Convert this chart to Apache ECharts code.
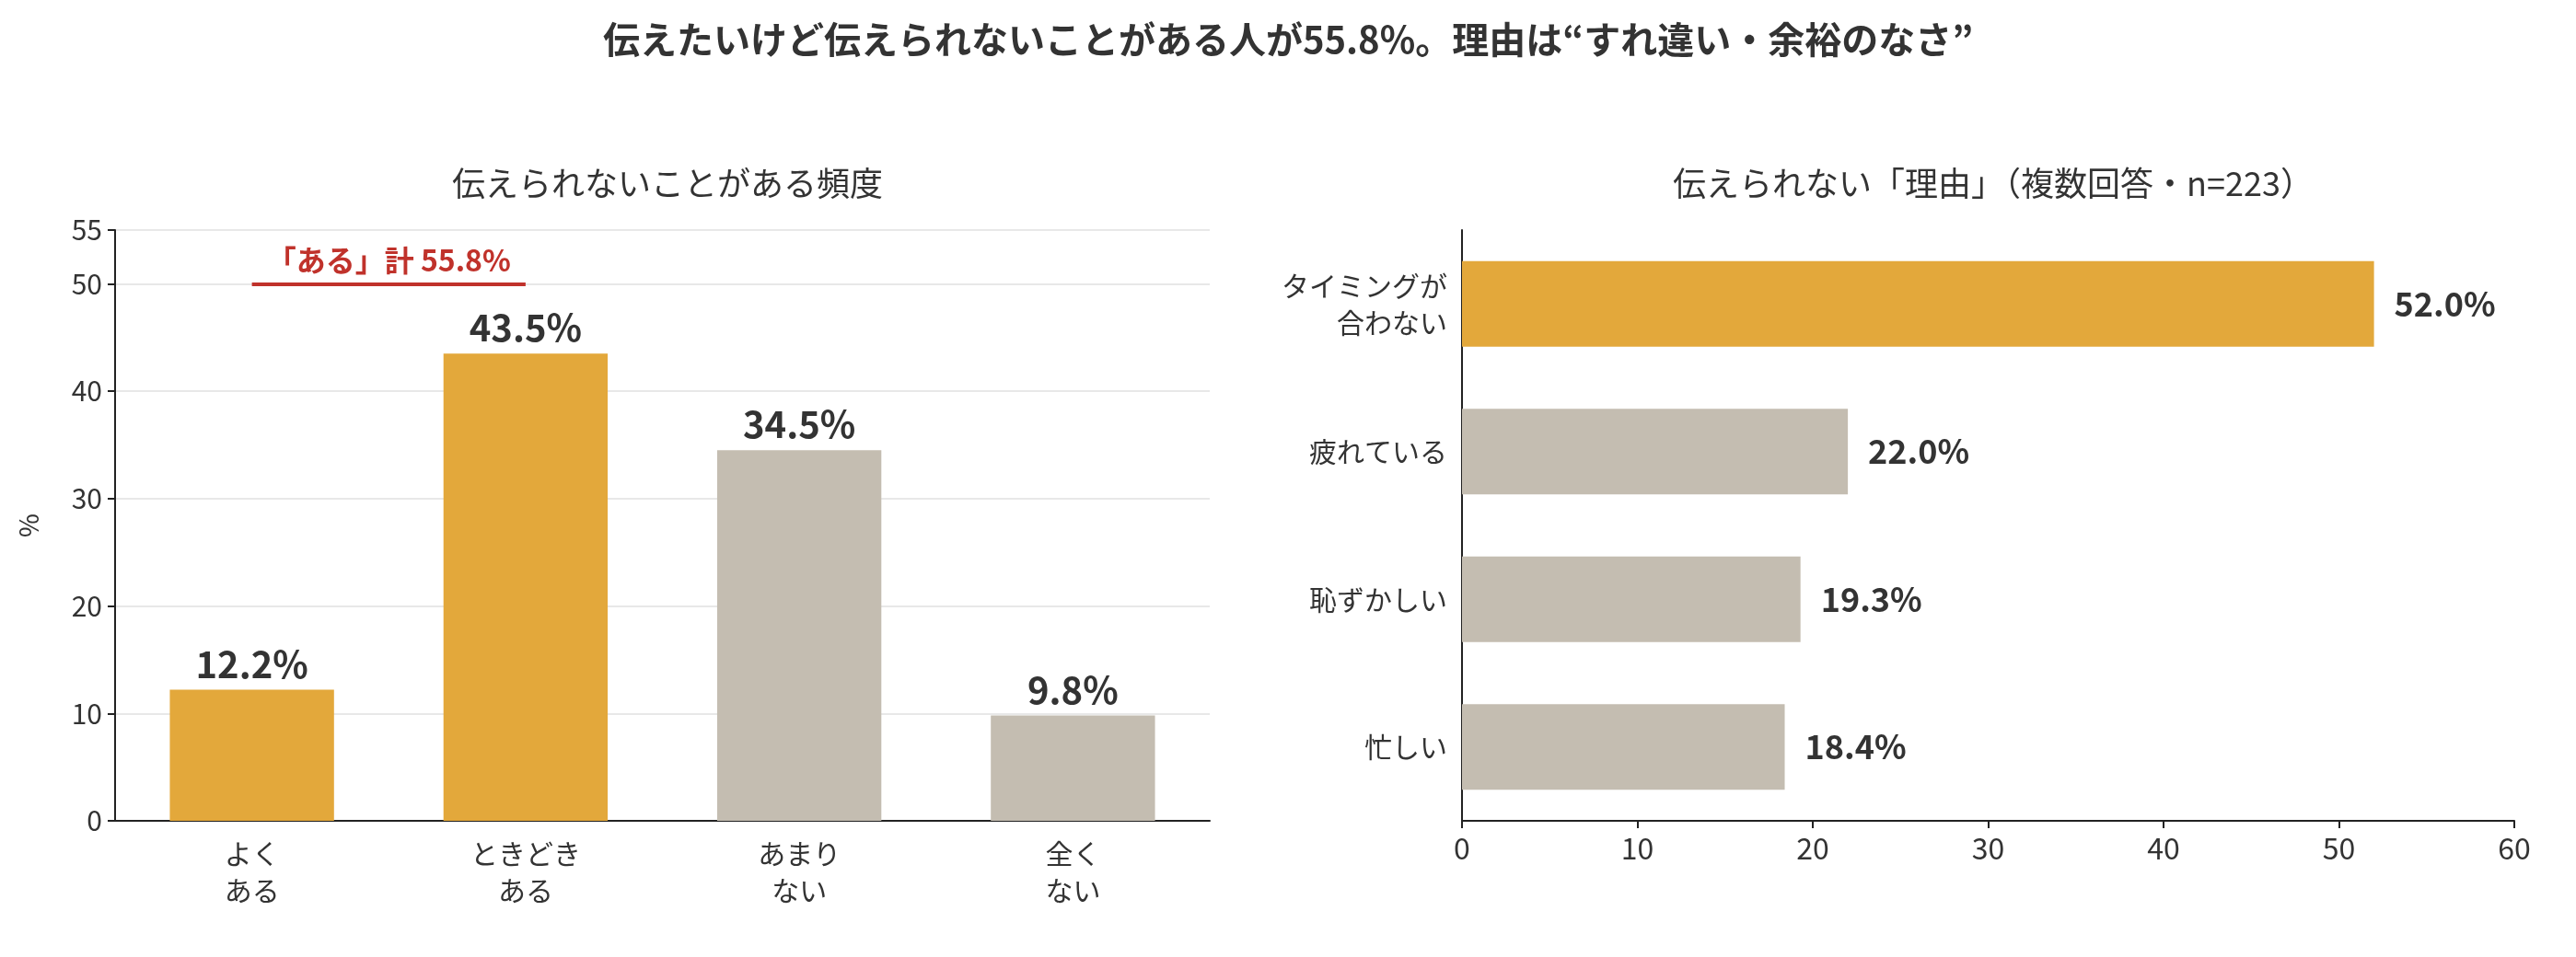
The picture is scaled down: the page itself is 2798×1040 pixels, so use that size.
<!DOCTYPE html>
<html><head><meta charset="utf-8">
<script src="https://cdn.jsdelivr.net/npm/echarts@6/dist/echarts.min.js"></script>
<style>html,body{margin:0;background:#fff}#c{width:2798px;height:1040px}</style>
</head><body><div id="c"></div>
<script>
var freqCats = ['よく\nある', 'ときどき\nある', 'あまり\nない', '全く\nない'];
var freqVals = [12.2, 43.5, 34.5, 9.8];
var freqColors = ['#E3A83B', '#E3A83B', '#C4BDB1', '#C4BDB1'];
var reasonCats = ['タイミングが\n合わない', '疲れている', '恥ずかしい', '忙しい'];
var reasonVals = [52.0, 22.0, 19.3, 18.4];
var reasonColors = ['#E3A83B', '#C4BDB1', '#C4BDB1', '#C4BDB1'];

var font = '"Noto Sans CJK JP", "Noto Sans", sans-serif';
var txt = '#333';
var chart = echarts.init(document.getElementById('c'));
var axisLine = {show: true, lineStyle: {color: '#222', width: 2}};
var option = {
    textStyle: {fontFamily: font},
    title: [
        {text: '伝えたいけど伝えられないことがある人が55.8%。理由は“すれ違い・余裕のなさ”', left: 'center', top: 18,
         textStyle: {fontSize: 40, fontWeight: 'bold', color: txt, fontFamily: font}},
        {text: '伝えられないことがある頻度', left: 720, textAlign: 'center', top: 176,
         textStyle: {fontSize: 36, fontWeight: 'normal', color: txt, fontFamily: font}},
        {text: '伝えられない「理由」（複数回答・n=223）', left: 2160, textAlign: 'center', top: 176,
         textStyle: {fontSize: 36, fontWeight: 'normal', color: txt, fontFamily: font}}
    ],
    grid: [
        {left: 125, width: 1189, top: 250, height: 642},
        {left: 1588, width: 1143, top: 250, height: 642}
    ],
    xAxis: [
        {gridIndex: 0, type: 'category', data: freqCats, axisLine: axisLine,
         axisTick: {show: false}, axisLabel: {fontSize: 30, color: txt, margin: 16, lineHeight: 40}},
        {gridIndex: 1, type: 'value', min: 0, max: 60, interval: 10, axisLine: axisLine,
         axisTick: {show: true, length: 8, lineStyle: {color: '#222', width: 2}},
         splitLine: {show: false}, axisLabel: {fontSize: 32, color: txt, margin: 14}}
    ],
    yAxis: [
        {gridIndex: 0, type: 'value', min: 0, max: 55, interval: 10, axisLine: axisLine,
         axisTick: {show: true, length: 8, lineStyle: {color: '#222', width: 2}},
         splitLine: {lineStyle: {color: '#e8e8e8', width: 2}},
         axisLabel: {fontSize: 30, color: txt, margin: 14},
         name: '%', nameLocation: 'middle', nameGap: 80, nameRotate: 90,
         nameTextStyle: {fontSize: 28, color: txt}},
        {gridIndex: 1, type: 'category', data: reasonCats, inverse: true, axisLine: axisLine,
         axisTick: {show: false}, axisLabel: {fontSize: 30, color: txt, margin: 16, lineHeight: 40, align: 'right'}}
    ],
    series: [
        {type: 'bar', xAxisIndex: 0, yAxisIndex: 0, barWidth: '60%',
         data: freqVals.map(function (v, i) { return {value: v, itemStyle: {color: freqColors[i]}}; }),
         label: {show: true, position: 'top', distance: 8, formatter: function (p) { return p.value.toFixed(1) + '%'; },
                 fontSize: 40, fontWeight: 'bold', color: txt},
         markLine: {symbol: 'none', silent: true,
             lineStyle: {color: '#C0322B', width: 4, type: 'solid'},
             label: {show: true, position: 'middle', formatter: '「ある」計 55.8%', fontSize: 32, fontWeight: 'bold',
                     color: '#C0322B', distance: 10},
             data: [[{coord: [-0.08, 50]}, {coord: [1.08, 50]}]]}},
        {type: 'bar', xAxisIndex: 1, yAxisIndex: 1, barWidth: '58%',
         data: reasonVals.map(function (v, i) { return {value: v, itemStyle: {color: reasonColors[i]}}; }),
         label: {show: true, position: 'right', distance: 22, formatter: function (p) { return p.value.toFixed(1) + '%'; },
                 fontSize: 36, fontWeight: 'bold', color: txt}}
    ]
};
chart.setOption(option);
</script></body></html>
